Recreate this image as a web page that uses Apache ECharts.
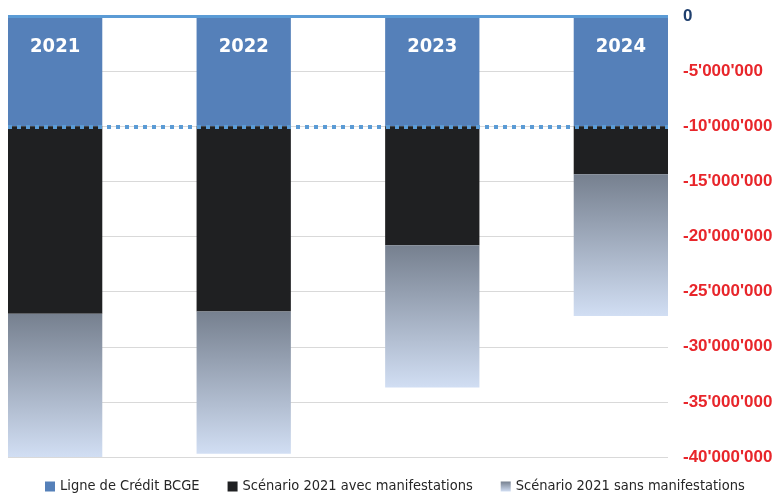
<!DOCTYPE html>
<html>
<head>
<meta charset="utf-8">
<script src="https://cdn.jsdelivr.net/npm/echarts@6/dist/echarts.min.js"></script>
<style>html,body{margin:0;padding:0;background:#fff}#c{width:777px;height:501px}</style>
</head>
<body>
<div id="c"></div>
<script>
var years = ['2021', '2022', '2023', '2024'];
var ligneCredit = [-10000000, -10000000, -10000000, -10000000];
var avecManif = [-17000000, -16800000, -10800000, -4350000];
var sansManif = [-13000000, -12900000, -12900000, -12850000];
var seriesNames = ['Ligne de Crédit BCGE', 'Scénario 2021 avec manifestations', 'Scénario 2021 sans manifestations'];
var creditLimit = -10000000;

// interleave years with empty slots (white gaps between bars)
var slots = [], credit = [], avec = [], sans = [];
years.forEach(function (y, i) {
  if (i > 0) { slots.push('gap' + i); credit.push(null); avec.push(null); sans.push(null); }
  slots.push(y); credit.push(ligneCredit[i]); avec.push(avecManif[i]); sans.push(sansManif[i]);
});

function fmt(v) {
  if (v === 0) return '0';
  var s = String(Math.abs(v)).replace(/\B(?=(\d{3})+(?!\d))/g, "'");
  return (v < 0 ? '-' : '') + s;
}

var condensed = "'DejaVu Sans Condensed', 'Liberation Sans Narrow', Roboto, sans-serif";

var chart = echarts.init(document.getElementById('c'), null, { renderer: 'canvas' });
chart.setOption({
  animation: false,
  backgroundColor: '#ffffff',
  grid: { left: 8, right: 109, top: 16, bottom: 44, containLabel: false },
  legend: {
    bottom: 2, left: 40, itemWidth: 10, itemHeight: 10, itemGap: 28,
    icon: 'rect',
    textStyle: { fontFamily: condensed, fontSize: 14.5, color: '#262626' },
    data: seriesNames
  },
  xAxis: {
    type: 'category', data: slots, position: 'top',
    axisLine: { show: false, onZero: false },
    axisTick: { show: false }, axisLabel: { show: false }, splitLine: { show: false }
  },
  yAxis: {
    type: 'value', position: 'right', min: -40000000, max: 0, interval: 5000000,
    axisLine: { show: false }, axisTick: { show: false },
    splitLine: { lineStyle: { color: '#d9d9d9', width: 1 } },
    axisLabel: {
      margin: 15, fontFamily: 'Liberation Sans', fontWeight: 'bold', fontSize: 17,
      color: function (v) { return Number(v) === 0 ? '#1f3f6e' : '#e8262b'; },
      formatter: fmt
    }
  },
  series: [
    {
      name: seriesNames[0], type: 'bar', stack: 'a', data: credit, barCategoryGap: '0%',
      itemStyle: { color: '#5580b9' },
      label: {
        show: true, position: 'insideTop', distance: 21, color: '#ffffff',
        fontFamily: condensed, fontWeight: 'bold', fontSize: 20,
        formatter: function (p) { return p.name; }
      },
      markLine: {
        silent: true, symbol: 'none', label: { show: false },
        data: [
          { yAxis: creditLimit, lineStyle: { color: '#5b9bd5', width: 4, type: [4, 5] } },
          { yAxis: 0, lineStyle: { color: '#5b9bd5', width: 3, type: 'solid' } }
        ]
      }
    },
    {
      name: seriesNames[1], type: 'bar', stack: 'a', data: avec,
      itemStyle: { color: '#1f2022' }
    },
    {
      name: seriesNames[2], type: 'bar', stack: 'a', data: sans,
      itemStyle: {
        color: new echarts.graphic.LinearGradient(0, 0, 0, 1, [
          { offset: 0, color: '#76808f' },
          { offset: 1, color: '#d1def3' }
        ])
      }
    }
  ]
});
</script>
</body>
</html>
